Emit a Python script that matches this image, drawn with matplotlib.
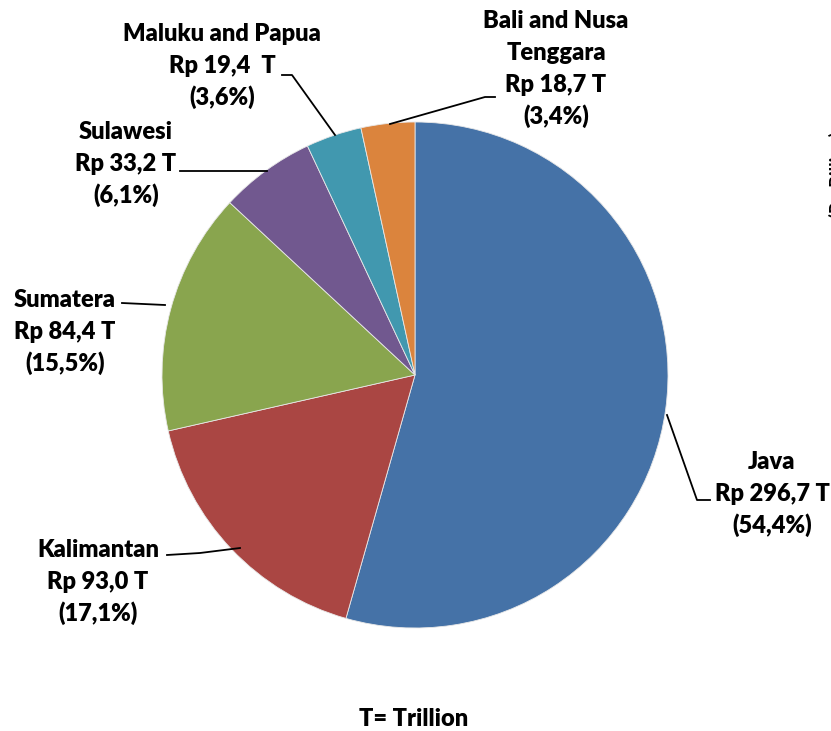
import matplotlib.pyplot as plt

# --------------------------------
# DATA
# --------------------------------

regions = ["Java", "Kalimantan", "Sumatera", "Sulawesi", "Maluku and Papua", "Bali and Nusa\nTenggara"]
values = [296.7, 93.0, 84.4, 33.2, 19.4, 18.7]
value_labels = ["Rp 296,7 T", "Rp 93,0 T", "Rp 84,4 T", "Rp 33,2 T", "Rp 19,4  T", "Rp 18,7 T"]
pct_labels = ["(54,4%)", "(17,1%)", "(15,5%)", "(6,1%)", "(3,6%)", "(3,4%)"]
colors = ["#4572A7", "#AA4643", "#89A54E", "#71588F", "#4198AF", "#DB843D"]

W, H = 831, 731

# label anchor (x centre, baseline of first line, pixels from top-left) and leader lines
label_pos = [(772, 469), (98, 557), (65, 307), (126, 139), (222, 41), (556, 28)]
leaders = [
    [(667, 415), (697, 500), (710, 500)],
    [(167, 555), (200, 553), (240, 548)],
    [(122, 303), (165, 305)],
    [(180, 171), (267, 171)],
    [(282, 75), (292, 75), (335, 135)],
    [(390, 124), (485, 97), (495, 97)],
]
line_step = 32

plt.rcParams["font.family"] = ["Lato", "DejaVu Sans"]

# --------------------------------
# PIE
# --------------------------------

fig = plt.figure(figsize=(W / 100, H / 100), dpi=100)
ax = fig.add_axes([0, 0, 1, 1])

ax.pie(values, colors=colors, startangle=90, counterclock=False,
       center=(415, H - 375), radius=253, frame=True,
       wedgeprops=dict(edgecolor="#E8E8E8", linewidth=0.6))
ax.set_xlim(0, W)
ax.set_ylim(0, H)
ax.set_aspect("equal")
ax.axis("off")

for i in range(len(values)):
    x, y = label_pos[i]
    lines = regions[i].split("\n") + [value_labels[i], pct_labels[i]]
    for k, line in enumerate(lines):
        ax.text(x, H - (y + k * line_step), line, ha="center", va="baseline",
                fontsize=17, fontweight="heavy")
    pts = leaders[i]
    ax.plot([p[0] for p in pts], [H - p[1] for p in pts], color="black", lw=1.3)

ax.text(414, H - 726, "T= Trillion", ha="center", va="baseline",
        fontsize=17, fontweight="heavy")

# clipped axis label from neighbouring chart
ax.text(838, H - 175, "(Rp Billion)", ha="center", va="center", rotation=90,
        fontsize=13, fontweight="bold", clip_on=False)

fig.savefig("out.png", dpi=100)
